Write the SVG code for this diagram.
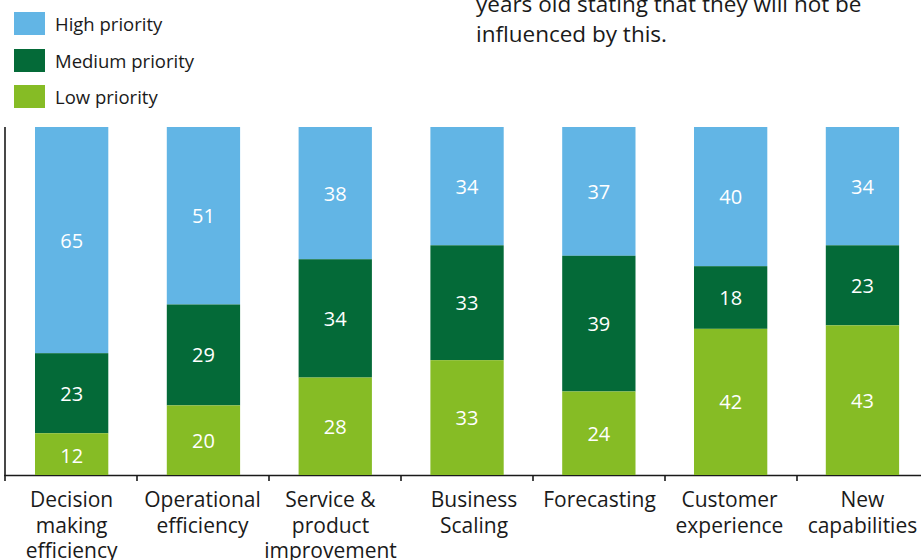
<svg xmlns="http://www.w3.org/2000/svg" width="921" height="560" viewBox="0 0 921 560">
  <style>
    .hi { fill: #62B5E5; }
    .med { fill: #046A38; }
    .low { fill: #86BC25; }
    .val { font-family: "Open Sans", "Liberation Sans", sans-serif; font-size: 20px; fill: #ffffff; text-anchor: middle; }
    .cat { font-family: "Open Sans", "Liberation Sans", sans-serif; font-size: 21px; fill: #1a1a1a; text-anchor: middle; }
    .leg { font-family: "Open Sans", "Liberation Sans", sans-serif; font-size: 18.5px; fill: #1a1a1a; }
    .note { font-family: "Open Sans", "Liberation Sans", sans-serif; font-size: 22.5px; fill: #1a1a1a; }
    .axis { stroke: #1a1a1a; stroke-width: 1.6; fill: none; }
  </style>
  <rect width="921" height="560" fill="#ffffff"/>

  <g id="note">
    <text class="note" x="476" y="12">years old stating that they will not be</text>
    <text class="note" x="476" y="41.5">influenced by this.</text>
  </g>

  <g id="legend">
    <g id="legend-high">
      <rect class="hi" x="14" y="12" width="31" height="23"/>
      <text class="leg" x="55" y="31">High priority</text>
    </g>
    <g id="legend-medium">
      <rect class="med" x="14" y="49" width="31" height="23"/>
      <text class="leg" x="55" y="67.5">Medium priority</text>
    </g>
    <g id="legend-low">
      <rect class="low" x="14" y="85" width="31" height="23"/>
      <text class="leg" x="55" y="103.5">Low priority</text>
    </g>
  </g>

  <g id="axes">
    <line class="axis" x1="5" y1="127" x2="5" y2="476"/>
    <line class="axis" x1="4.2" y1="475.5" x2="921" y2="475.5"/>
    <line class="axis" x1="5" y1="475.5" x2="5" y2="481"/>
    <line class="axis" x1="137" y1="475.5" x2="137" y2="481"/>
    <line class="axis" x1="269" y1="475.5" x2="269" y2="481"/>
    <line class="axis" x1="401" y1="475.5" x2="401" y2="481"/>
    <line class="axis" x1="533" y1="475.5" x2="533" y2="481"/>
    <line class="axis" x1="665" y1="475.5" x2="665" y2="481"/>
    <line class="axis" x1="797" y1="475.5" x2="797" y2="481"/>
  </g>

  <g id="bar-decision">
    <rect class="hi" x="35" y="127" width="73.3" height="226.2"/>
    <rect class="med" x="35" y="353.2" width="73.3" height="80.04"/>
    <rect class="low" x="35" y="433.24" width="73.3" height="41.76"/>
    <text class="val" x="71.65" y="247.6">65</text>
    <text class="val" x="71.65" y="400.7">23</text>
    <text class="val" x="71.65" y="462.5">12</text>
    <text class="cat" x="71.65" y="507">Decision</text>
    <text class="cat" x="71.65" y="532.5">making</text>
    <text class="cat" x="71.65" y="558">efficiency</text>
  </g>

  <g id="bar-operational">
    <rect class="hi" x="166.8" y="127" width="73.3" height="177.48"/>
    <rect class="med" x="166.8" y="304.48" width="73.3" height="100.92"/>
    <rect class="low" x="166.8" y="405.4" width="73.3" height="69.6"/>
    <text class="val" x="203.45" y="223.2">51</text>
    <text class="val" x="203.45" y="362.4">29</text>
    <text class="val" x="203.45" y="447.7">20</text>
    <text class="cat" x="202.5" y="507">Operational</text>
    <text class="cat" x="202.5" y="532.5">efficiency</text>
  </g>

  <g id="bar-service">
    <rect class="hi" x="298.6" y="127" width="73.3" height="132.24"/>
    <rect class="med" x="298.6" y="259.24" width="73.3" height="118.32"/>
    <rect class="low" x="298.6" y="377.56" width="73.3" height="97.44"/>
    <text class="val" x="335.25" y="200.6">38</text>
    <text class="val" x="335.25" y="325.9">34</text>
    <text class="val" x="335.25" y="433.8">28</text>
    <text class="cat" x="330.5" y="507">Service &amp;</text>
    <text class="cat" x="330.5" y="532.5">product</text>
    <text class="cat" x="330.5" y="558">improvement</text>
  </g>

  <g id="bar-business">
    <rect class="hi" x="430.4" y="127" width="73.3" height="118.32"/>
    <rect class="med" x="430.4" y="245.32" width="73.3" height="114.84"/>
    <rect class="low" x="430.4" y="360.16" width="73.3" height="114.84"/>
    <text class="val" x="467.05" y="193.7">34</text>
    <text class="val" x="467.05" y="310.2">33</text>
    <text class="val" x="467.05" y="425.1">33</text>
    <text class="cat" x="474" y="507">Business</text>
    <text class="cat" x="474" y="532.5">Scaling</text>
  </g>

  <g id="bar-forecasting">
    <rect class="hi" x="562.2" y="127" width="73.3" height="128.76"/>
    <rect class="med" x="562.2" y="255.76" width="73.3" height="135.72"/>
    <rect class="low" x="562.2" y="391.48" width="73.3" height="83.52"/>
    <text class="val" x="598.85" y="198.9">37</text>
    <text class="val" x="598.85" y="331.1">39</text>
    <text class="val" x="598.85" y="440.7">24</text>
    <text class="cat" x="599.5" y="507">Forecasting</text>
  </g>

  <g id="bar-customer">
    <rect class="hi" x="694" y="127" width="73.3" height="139.2"/>
    <rect class="med" x="694" y="266.2" width="73.3" height="62.64"/>
    <rect class="low" x="694" y="328.84" width="73.3" height="146.16"/>
    <text class="val" x="730.65" y="204.1">40</text>
    <text class="val" x="730.65" y="305">18</text>
    <text class="val" x="730.65" y="409.4">42</text>
    <text class="cat" x="729.5" y="507">Customer</text>
    <text class="cat" x="729.5" y="532.5">experience</text>
  </g>

  <g id="bar-new">
    <rect class="hi" x="825.8" y="127" width="73.3" height="118.32"/>
    <rect class="med" x="825.8" y="245.32" width="73.3" height="80.04"/>
    <rect class="low" x="825.8" y="325.36" width="73.3" height="149.64"/>
    <text class="val" x="862.45" y="193.7">34</text>
    <text class="val" x="862.45" y="292.8">23</text>
    <text class="val" x="862.45" y="407.7">43</text>
    <text class="cat" x="862.45" y="507">New</text>
    <text class="cat" x="862.45" y="532.5">capabilities</text>
  </g>
</svg>
